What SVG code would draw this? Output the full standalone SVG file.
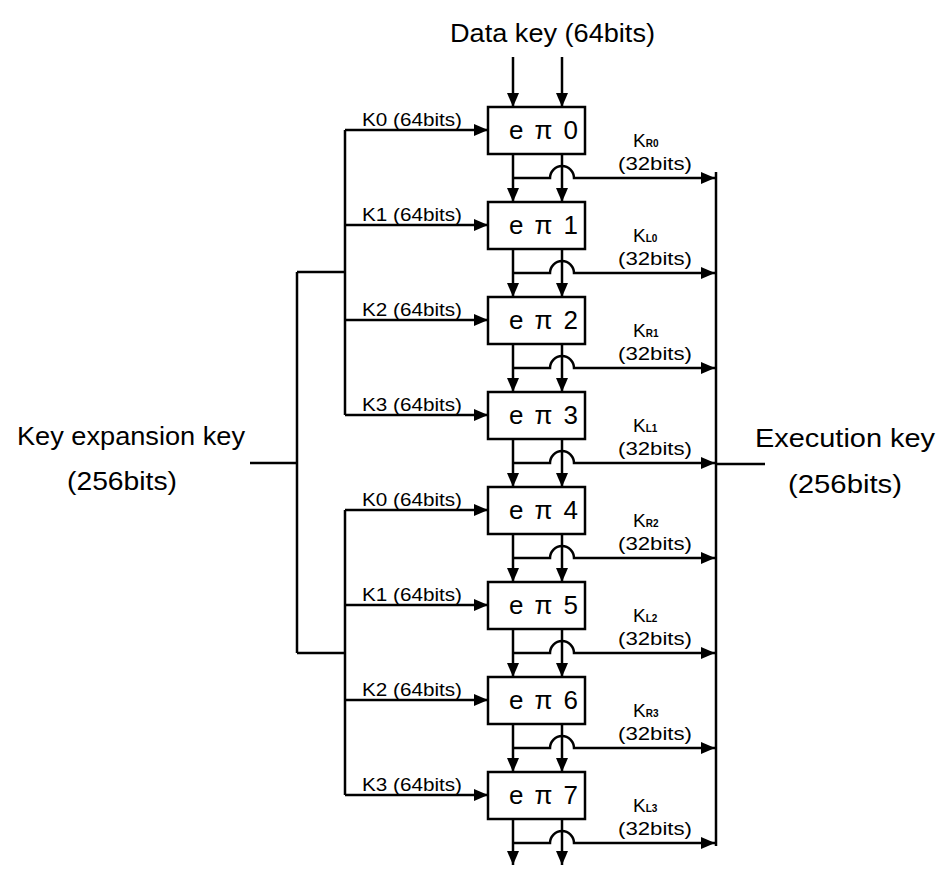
<svg xmlns="http://www.w3.org/2000/svg" width="947" height="877" viewBox="0 0 947 877">
<style>
text{font-family:"Liberation Sans",Arial,sans-serif;fill:#000}
.big{font-size:25px}
.bx{font-size:26px}
.mid{font-size:18px}
.kk{font-size:19px}
.sub{font-size:10px;font-weight:bold}
.box{fill:#fff;stroke:#000;stroke-width:2.5}
.ln{fill:none;stroke:#000;stroke-width:2.5}
.ar{fill:none;stroke:#000;stroke-width:2.5;marker-end:url(#ah)}
</style>
<defs>
<marker id="ah" markerUnits="userSpaceOnUse" markerWidth="14" markerHeight="12" refX="14" refY="6" orient="auto"><path d="M0,0 L14,6 L0,12 z" fill="#000"/></marker>
</defs>
<rect width="947" height="877" fill="#fff"/>
<text class="big" x="450" y="42" textLength="205" lengthAdjust="spacingAndGlyphs">Data key (64bits)</text>
<text class="big" x="17" y="445" textLength="228" lengthAdjust="spacingAndGlyphs">Key expansion key</text>
<text class="big" x="67" y="490" textLength="110" lengthAdjust="spacingAndGlyphs">(256bits)</text>
<text class="big" x="755" y="447" textLength="180" lengthAdjust="spacingAndGlyphs">Execution key</text>
<text class="big" x="788" y="493" textLength="114" lengthAdjust="spacingAndGlyphs">(256bits)</text>
<g id="connectors">
<path class="ar" d="M513,57 V107"/>
<path class="ar" d="M562,57 V107"/>
<path class="ln" d="M250,463 H297 M297,272 V653 M297,272 H345 M297,653 H345 M345,130 V415 M345,510 V795"/>
<path class="ln" d="M716,172 V846 M716,464 H765"/>
<path class="ar" d="M345,130 H488"/><path class="ar" d="M345,225 H488"/><path class="ar" d="M345,320 H488"/><path class="ar" d="M345,415 H488"/>
<path class="ar" d="M345,510 H488"/><path class="ar" d="M345,605 H488"/><path class="ar" d="M345,700 H488"/><path class="ar" d="M345,795 H488"/>
<path class="ar" d="M513,154 V202"/><path class="ar" d="M562,154 V202"/><path class="ar" d="M513,178 H550 A12,12 0 0 1 574,178 H715"/>
<path class="ar" d="M513,249 V297"/><path class="ar" d="M562,249 V297"/><path class="ar" d="M513,273 H550 A12,12 0 0 1 574,273 H715"/>
<path class="ar" d="M513,344 V392"/><path class="ar" d="M562,344 V392"/><path class="ar" d="M513,368 H550 A12,12 0 0 1 574,368 H715"/>
<path class="ar" d="M513,439 V487"/><path class="ar" d="M562,439 V487"/><path class="ar" d="M513,463 H550 A12,12 0 0 1 574,463 H715"/>
<path class="ar" d="M513,534 V582"/><path class="ar" d="M562,534 V582"/><path class="ar" d="M513,558 H550 A12,12 0 0 1 574,558 H715"/>
<path class="ar" d="M513,629 V677"/><path class="ar" d="M562,629 V677"/><path class="ar" d="M513,653 H550 A12,12 0 0 1 574,653 H715"/>
<path class="ar" d="M513,724 V772"/><path class="ar" d="M562,724 V772"/><path class="ar" d="M513,748 H550 A12,12 0 0 1 574,748 H715"/>
<path class="ar" d="M513,819 V865"/><path class="ar" d="M562,819 V865"/><path class="ar" d="M513,843 H550 A12,12 0 0 1 574,843 H715"/>
</g>
<g id="labels-in">
<text class="mid" x="362" y="126" textLength="100" lengthAdjust="spacingAndGlyphs">K0 (64bits)</text>
<text class="mid" x="362" y="221" textLength="100" lengthAdjust="spacingAndGlyphs">K1 (64bits)</text>
<text class="mid" x="362" y="316" textLength="100" lengthAdjust="spacingAndGlyphs">K2 (64bits)</text>
<text class="mid" x="362" y="411" textLength="100" lengthAdjust="spacingAndGlyphs">K3 (64bits)</text>
<text class="mid" x="362" y="506" textLength="100" lengthAdjust="spacingAndGlyphs">K0 (64bits)</text>
<text class="mid" x="362" y="601" textLength="100" lengthAdjust="spacingAndGlyphs">K1 (64bits)</text>
<text class="mid" x="362" y="696" textLength="100" lengthAdjust="spacingAndGlyphs">K2 (64bits)</text>
<text class="mid" x="362" y="791" textLength="100" lengthAdjust="spacingAndGlyphs">K3 (64bits)</text>
</g>
<g id="ep0"><rect class="box" x="488" y="107" width="97" height="47"/><text class="bx" x="509" y="139" textLength="69" lengthAdjust="spacing">e π 0</text></g>
<g id="ep1"><rect class="box" x="488" y="202" width="97" height="47"/><text class="bx" x="509" y="234" textLength="69" lengthAdjust="spacing">e π 1</text></g>
<g id="ep2"><rect class="box" x="488" y="297" width="97" height="47"/><text class="bx" x="509" y="329" textLength="69" lengthAdjust="spacing">e π 2</text></g>
<g id="ep3"><rect class="box" x="488" y="392" width="97" height="47"/><text class="bx" x="509" y="424" textLength="69" lengthAdjust="spacing">e π 3</text></g>
<g id="ep4"><rect class="box" x="488" y="487" width="97" height="47"/><text class="bx" x="509" y="519" textLength="69" lengthAdjust="spacing">e π 4</text></g>
<g id="ep5"><rect class="box" x="488" y="582" width="97" height="47"/><text class="bx" x="509" y="614" textLength="69" lengthAdjust="spacing">e π 5</text></g>
<g id="ep6"><rect class="box" x="488" y="677" width="97" height="47"/><text class="bx" x="509" y="709" textLength="69" lengthAdjust="spacing">e π 6</text></g>
<g id="ep7"><rect class="box" x="488" y="772" width="97" height="47"/><text class="bx" x="509" y="804" textLength="69" lengthAdjust="spacing">e π 7</text></g>
<g id="labels-out">
<text class="kk" x="633" y="147">K<tspan class="sub">R0</tspan></text><text class="mid" x="618" y="170" textLength="74" lengthAdjust="spacingAndGlyphs">(32bits)</text>
<text class="kk" x="633" y="242">K<tspan class="sub">L0</tspan></text><text class="mid" x="618" y="265" textLength="74" lengthAdjust="spacingAndGlyphs">(32bits)</text>
<text class="kk" x="633" y="337">K<tspan class="sub">R1</tspan></text><text class="mid" x="618" y="360" textLength="74" lengthAdjust="spacingAndGlyphs">(32bits)</text>
<text class="kk" x="633" y="432">K<tspan class="sub">L1</tspan></text><text class="mid" x="618" y="455" textLength="74" lengthAdjust="spacingAndGlyphs">(32bits)</text>
<text class="kk" x="633" y="527">K<tspan class="sub">R2</tspan></text><text class="mid" x="618" y="550" textLength="74" lengthAdjust="spacingAndGlyphs">(32bits)</text>
<text class="kk" x="633" y="622">K<tspan class="sub">L2</tspan></text><text class="mid" x="618" y="645" textLength="74" lengthAdjust="spacingAndGlyphs">(32bits)</text>
<text class="kk" x="633" y="717">K<tspan class="sub">R3</tspan></text><text class="mid" x="618" y="740" textLength="74" lengthAdjust="spacingAndGlyphs">(32bits)</text>
<text class="kk" x="633" y="812">K<tspan class="sub">L3</tspan></text><text class="mid" x="618" y="835" textLength="74" lengthAdjust="spacingAndGlyphs">(32bits)</text>
</g>
</svg>
